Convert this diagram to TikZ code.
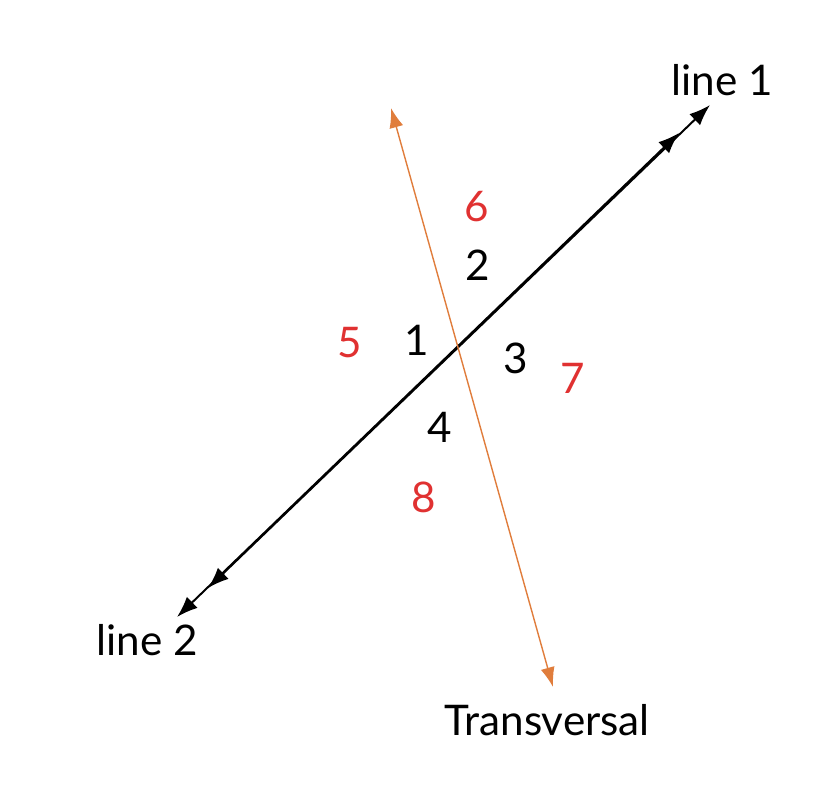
\documentclass[tikz,border=0pt]{standalone}
\usepackage{fontspec}
\setmainfont{Lato}
\usepackage{tikz}
\usetikzlibrary{arrows.meta, positioning}
\usepackage{xcolor}
\definecolor{transcolor}{HTML}{E07D3C}
\definecolor{outercolor}{HTML}{E03131}

\tikzset{
    parline/.style={line width=1.4pt, black, arrows={Latex[length=15pt,width=11pt]-Latex[length=15pt,width=11pt]}},
    transline/.style={line width=1pt, transcolor, arrows={Latex[length=14pt,width=10pt]-Latex[length=14pt,width=10pt]}},
    label/.style={font=\fontsize{30}{36}\selectfont, inner sep=0pt},
    inner/.style={label, black},
    outer/.style={label, outercolor}
}

\begin{document}
\begin{tikzpicture}[x=0.025cm, y=-0.025cm]
    \useasboundingbox (0,0) rectangle (820,798);

    % Points
    \coordinate (L1a) at (208,588);
    \coordinate (L1b) at (710,105);
    \coordinate (L2a) at (177,617);
    \coordinate (L2b) at (679,133);
    \coordinate (Ta) at (391,108);
    \coordinate (Tb) at (553,687);

    % Draw the lines
    \draw[parline]   (L1a) -- (L1b);
    \draw[parline]   (L2a) -- (L2b);
    \draw[transline] (Ta) -- (Tb);

    % Line names
    \node[label] (line1) at (722,80)  {line 1};
    \node[label] (line2) at (147,640) {line 2};
    \node[label] (trans) at (547,720) {Transversal};

    % Angles at the crossing
    \node[inner] (a1) at (417,340) {1};
    \node[inner] (a2) at (478,265) {2};
    \node[inner] (a3) at (516,358) {3};
    \node[inner] (a4) at (440,427) {4};

    % Outer numbers
    \node[outer] (a5) at (350,343) {5};
    \node[outer] (a6) at (477,207) {6};
    \node[outer] (a7) at (573,378) {7};
    \node[outer] (a8) at (424,497) {8};
\end{tikzpicture}
\end{document}
